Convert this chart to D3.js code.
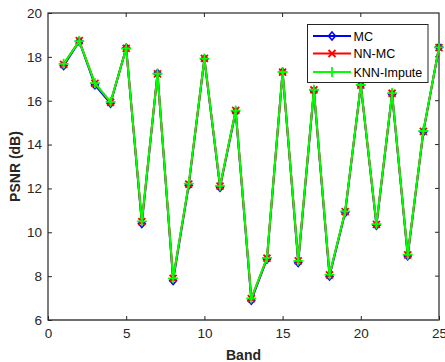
<!DOCTYPE html>
<html>
<head>
<meta charset="utf-8">
<script src="https://cdn.jsdelivr.net/npm/d3@7"></script>
<style>
  html, body { margin: 0; padding: 0; background: #fff; }
  svg { display: block; font-family: Arial, "Liberation Sans", sans-serif; }
</style>
</head>
<body>
<div id="chart"></div>
<script>
// band index along x
const bands = d3.range(1, 26);

// PSNR per band for each method
const mcValues = [17.6, 18.7, 16.72, 15.88, 18.4, 10.4, 17.24, 7.8, 12.15, 17.9, 12.05, 15.5, 6.9,
  8.78, 17.3, 8.62, 16.45, 8.0, 10.9, 16.7, 10.32, 16.3, 8.92, 14.58, 18.44];
const nnmcValues = [17.66, 18.74, 16.79, 15.93, 18.39, 10.49, 17.22, 7.9, 12.2, 17.93, 12.1, 15.56, 6.97,
  8.82, 17.3, 8.7, 16.49, 8.06, 10.94, 16.71, 10.36, 16.34, 8.97, 14.6, 18.42];
const knnValues = [17.68, 18.72, 16.8, 15.95, 18.38, 10.5, 17.23, 7.9, 12.22, 17.92, 12.12, 15.55, 6.98,
  8.83, 17.31, 8.7, 16.5, 8.07, 10.95, 16.72, 10.37, 16.35, 8.98, 14.62, 18.43];

const seriesNames = ['MC', 'NN-MC', 'KNN-Impute'];
const xTicks = [0, 5, 10, 15, 20, 25];
const yTicks = [6, 8, 10, 12, 14, 16, 18, 20];

const W = 445, H = 362;
const margin = { left: 48, top: 13, right: 6, bottom: 42 };
const plotW = 439 - margin.left;
const plotH = 320 - margin.top;

const axisColor = '#262626';

const svg = d3.select('#chart')
  .append('svg')
  .attr('width', W)
  .attr('height', H);

const x = d3.scaleLinear().domain([0, 25]).range([margin.left, margin.left + plotW]);
const y = d3.scaleLinear().domain([6, 20]).range([margin.top + plotH, margin.top]);

// box + ticks
const g = svg.append('g');

g.append('rect')
  .attr('x', x(0)).attr('y', y(20))
  .attr('width', plotW).attr('height', plotH)
  .attr('fill', 'none')
  .attr('stroke', axisColor)
  .attr('stroke-width', 1.2);

// bottom axis line a bit heavier / greyer like the reference
g.append('line')
  .attr('x1', x(0)).attr('x2', x(25))
  .attr('y1', y(6)).attr('y2', y(6))
  .attr('stroke', '#6e6e6e')
  .attr('stroke-width', 2);

const xAxis = d3.axisBottom(x).tickValues(xTicks).tickSizeInner(-4).tickSizeOuter(0).tickPadding(8);
const yAxis = d3.axisLeft(y).tickValues(yTicks).tickSizeInner(-4).tickSizeOuter(0).tickPadding(6);

const gx = svg.append('g').attr('transform', `translate(0,${y(6)})`).call(xAxis);
const gy = svg.append('g').attr('transform', `translate(${x(0)},0)`).call(yAxis);
[gx, gy].forEach(a => {
  a.select('.domain').remove();
  a.selectAll('line').attr('stroke', axisColor);
  a.selectAll('text')
    .attr('fill', axisColor)
    .style('font-size', '13.5px')
    .style('font-family', 'Arial, "Liberation Sans", sans-serif');
});
gx.selectAll('text').attr('dy', '0.71em');

// top and right ticks (mirrored)
svg.append('g').selectAll('line')
  .data(xTicks.slice(1, -1))
  .enter().append('line')
  .attr('x1', d => x(d)).attr('x2', d => x(d))
  .attr('y1', y(20)).attr('y2', y(20) + 4)
  .attr('stroke', axisColor);
svg.append('g').selectAll('line')
  .data(yTicks.slice(1, -1))
  .enter().append('line')
  .attr('x1', x(25)).attr('x2', x(25) - 4)
  .attr('y1', d => y(d)).attr('y2', d => y(d))
  .attr('stroke', axisColor);

// axis labels
svg.append('text')
  .attr('x', x(12.5) + 0)
  .attr('y', 360)
  .attr('text-anchor', 'middle')
  .attr('font-weight', 'bold')
  .attr('font-size', '14px')
  .attr('fill', axisColor)
  .text('Band');

svg.append('text')
  .attr('transform', `translate(20,${y(13)}) rotate(-90)`)
  .attr('text-anchor', 'middle')
  .attr('font-weight', 'bold')
  .attr('font-size', '14px')
  .attr('fill', axisColor)
  .text('PSNR (dB)');

// series
const line = d3.line().x((d, i) => x(bands[i])).y(d => y(d));

const series = [
  { name: seriesNames[0], values: mcValues, color: '#0000ff', marker: 'diamond' },
  { name: seriesNames[1], values: nnmcValues, color: '#ff0000', marker: 'x' },
  { name: seriesNames[2], values: knnValues, color: '#00ff00', marker: 'plus' }
];

function drawMarker(sel, type, color) {
  if (type === 'diamond') {
    sel.append('path')
      .attr('d', 'M0,-4L3.5,0L0,4L-3.5,0Z')
      .attr('fill', 'none')
      .attr('stroke', color)
      .attr('stroke-width', 1.5);
  } else if (type === 'x') {
    sel.append('path')
      .attr('d', 'M-3.5,-3.5L3.5,3.5M-3.5,3.5L3.5,-3.5')
      .attr('stroke', color)
      .attr('stroke-width', 1.8);
  } else {
    sel.append('path')
      .attr('d', 'M-5,0L5,0M0,-5L0,5')
      .attr('stroke', color)
      .attr('stroke-width', 1.8);
  }
}

const plot = svg.append('g');
series.forEach(s => {
  plot.append('path')
    .datum(s.values)
    .attr('d', line)
    .attr('fill', 'none')
    .attr('stroke', s.color)
    .attr('stroke-width', 2);
  s.values.forEach((v, i) => {
    const m = plot.append('g').attr('transform', `translate(${x(bands[i])},${y(v)})`);
    drawMarker(m, s.marker, s.color);
  });
});

// legend
const lg = svg.append('g');
lg.append('rect')
  .attr('x', 307.5).attr('y', 24.5)
  .attr('width', 120.5).attr('height', 58)
  .attr('fill', '#fff')
  .attr('stroke', axisColor)
  .attr('stroke-width', 1);

const legendY = [36, 53.5, 72];
series.forEach((s, i) => {
  const row = lg.append('g').attr('transform', `translate(0,${legendY[i]})`);
  row.append('line')
    .attr('x1', 313).attr('x2', 351)
    .attr('stroke', s.color)
    .attr('stroke-width', 2);
  drawMarker(row.append('g').attr('transform', 'translate(332,0)'), s.marker, s.color);
  row.append('text')
    .attr('x', 353.5)
    .attr('dy', '0.36em')
    .attr('font-size', '12.5px')
    .attr('fill', '#000')
    .text(s.name);
});
</script>
</body>
</html>
